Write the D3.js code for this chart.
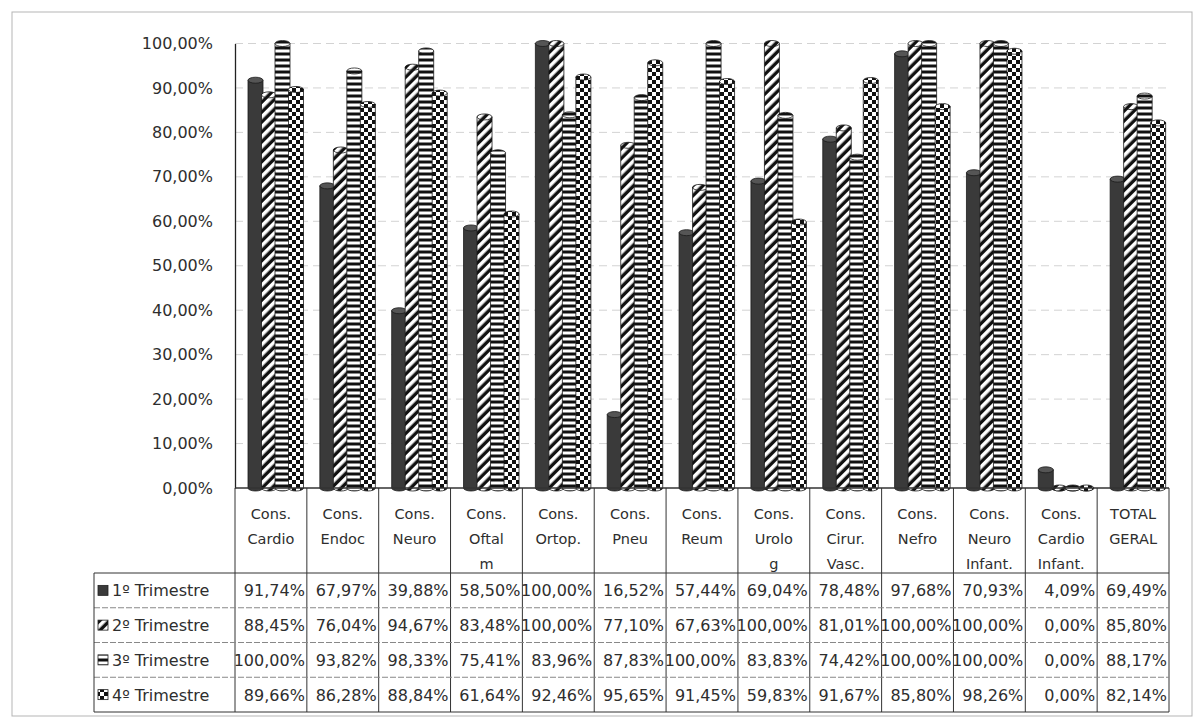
<!DOCTYPE html>
<html>
<head>
<meta charset="utf-8">
<script src="https://cdn.jsdelivr.net/npm/d3@7"></script>
<style>
  body { margin: 0; background: #fff; }
  text { font-family: "DejaVu Sans", sans-serif; fill: #2e2e2e; }
</style>
</head>
<body>
<svg width="1201" height="724"></svg>
<script>
// categories (header lines of the table)
var categories = [
  ["Cons.", "Cardio"], ["Cons.", "Endoc"], ["Cons.", "Neuro"], ["Cons.", "Oftal", "m"],
  ["Cons.", "Ortop."], ["Cons.", "Pneu"], ["Cons.", "Reum"], ["Cons.", "Urolo", "g"],
  ["Cons.", "Cirur.", "Vasc."], ["Cons.", "Nefro"], ["Cons.", "Neuro", "Infant."],
  ["Cons.", "Cardio", "Infant."], ["TOTAL", "GERAL"]
];
var seriesNames = ["1º Trimestre", "2º Trimestre", "3º Trimestre", "4º Trimestre"];
var tri1 = [91.74, 67.97, 39.88, 58.50, 100.00, 16.52, 57.44, 69.04, 78.48, 97.68, 70.93, 4.09, 69.49];
var tri2 = [88.45, 76.04, 94.67, 83.48, 100.00, 77.10, 67.63, 100.00, 81.01, 100.00, 100.00, 0.00, 85.80];
var tri3 = [100.00, 93.82, 98.33, 75.41, 83.96, 87.83, 100.00, 83.83, 74.42, 100.00, 100.00, 0.00, 88.17];
var tri4 = [89.66, 86.28, 88.84, 61.64, 92.46, 95.65, 91.45, 59.83, 91.67, 85.80, 98.26, 0.00, 82.14];
var yTicks = [0, 10, 20, 30, 40, 50, 60, 70, 80, 90, 100];

var series = [tri1, tri2, tri3, tri4];
var fills = ["#3a3a3a", "url(#pDiag)", "url(#pHoriz)", "url(#pCheck)"];

var svg = d3.select("svg");
var defs = svg.append("defs");

// patterns used for the series
var pd = defs.append("pattern").attr("id", "pDiag").attr("patternUnits", "userSpaceOnUse")
  .attr("width", 7).attr("height", 7).attr("patternTransform", "rotate(45)");
pd.append("rect").attr("width", 7).attr("height", 7).attr("fill", "#111");
pd.append("rect").attr("width", 3.6).attr("height", 7).attr("fill", "#fff");

var ph = defs.append("pattern").attr("id", "pHoriz").attr("patternUnits", "userSpaceOnUse")
  .attr("width", 6).attr("height", 6);
ph.append("rect").attr("width", 6).attr("height", 6).attr("fill", "#111");
ph.append("rect").attr("y", 1.5).attr("width", 6).attr("height", 3).attr("fill", "#fff");

var pc = defs.append("pattern").attr("id", "pCheck").attr("patternUnits", "userSpaceOnUse")
  .attr("width", 8).attr("height", 8);
pc.append("rect").attr("width", 8).attr("height", 8).attr("fill", "#111");
pc.append("rect").attr("width", 4).attr("height", 4).attr("fill", "#fff");
pc.append("rect").attr("x", 4).attr("y", 4).attr("width", 4).attr("height", 4).attr("fill", "#fff");

var left = 235, right = 1169;
var x = d3.scaleBand().domain(d3.range(categories.length)).range([left, right]).padding(0);
var y = d3.scaleLinear().domain([0, 100]).range([488, 43.5]);
var sub = d3.scaleLinear().domain([0, 3]).range([13, 53.5]);
var barW = 15, ry = 3;

// outer frame
svg.append("rect").attr("x", 12).attr("y", 12).attr("width", 1180).attr("height", 704)
  .attr("fill", "none").attr("stroke", "#b5b5b5");

// gridlines
svg.append("g").selectAll("line").data(yTicks.slice(1)).enter().append("line")
  .attr("x1", left).attr("x2", right)
  .attr("y1", function(d) { return y(d); }).attr("y2", function(d) { return y(d); })
  .attr("stroke", "#c8c8c8").attr("stroke-dasharray", "8,5").attr("stroke-width", 0.8);

// y axis
var yAxis = d3.axisLeft(y).tickValues(yTicks).tickSize(0).tickPadding(22)
  .tickFormat(function(d) { return d3.format(".2f")(d).replace(".", ",") + "%"; });
var ga = svg.append("g").attr("transform", "translate(" + left + ",0)").call(yAxis);
ga.select(".domain").attr("stroke", "#222").attr("stroke-width", 1.3);
ga.selectAll("text").style("font-size", "16px").style("font-family", "DejaVu Sans").attr("fill", "#2e2e2e");

// cylinders
function body(x0, yt, yb) {
  var r = barW / 2;
  return "M" + x0 + "," + yt + "L" + x0 + "," + yb +
    "A" + r + "," + ry + " 0 0 0 " + (x0 + barW) + "," + yb +
    "L" + (x0 + barW) + "," + yt + "Z";
}
series.forEach(function(vals, s) {
  var g = svg.append("g");
  vals.forEach(function(v, i) {
    var x0 = x(i) + sub(s);
    g.append("path").attr("d", body(x0, y(v), y(0)))
      .attr("fill", fills[s]).attr("stroke", "#1a1a1a").attr("stroke-width", 0.8);
    g.append("ellipse").attr("cx", x0 + barW / 2).attr("cy", y(v)).attr("rx", barW / 2).attr("ry", ry)
      .attr("fill", s === 0 ? "#555" : fills[s]).attr("stroke", "#1a1a1a").attr("stroke-width", 0.8);
  });
});

// data table
var rowTop = 573, rowH = 34.75, tableLeft = 94;
var tbl = svg.append("g").attr("stroke", "#333").attr("stroke-width", 1);
tbl.append("line").attr("x1", left).attr("x2", right).attr("y1", 488).attr("y2", 488).attr("stroke-width", 1.4);
d3.range(categories.length + 1).forEach(function(i) {
  var xx = i < categories.length ? x(i) : right;
  tbl.append("line").attr("x1", xx).attr("x2", xx).attr("y1", 488).attr("y2", rowTop + 4 * rowH);
});
d3.range(5).forEach(function(r) {
  tbl.append("line").attr("x1", tableLeft).attr("x2", right)
    .attr("y1", rowTop + r * rowH).attr("y2", rowTop + r * rowH)
    .attr("stroke", r === 0 || r === 4 ? "#333" : "#888")
    .attr("stroke-dasharray", r === 0 || r === 4 ? null : "6,2");
});
tbl.append("line").attr("x1", tableLeft).attr("x2", tableLeft).attr("y1", rowTop).attr("y2", rowTop + 4 * rowH);

// header labels
categories.forEach(function(lines, i) {
  var t = svg.append("text").attr("text-anchor", "middle").style("font-size", "14.5px");
  lines.forEach(function(l, k) {
    t.append("tspan").attr("x", x(i) + x.bandwidth() / 2).attr("y", 519 + k * 25).text(l);
  });
});

// rows
var fmt = function(v) { return d3.format(".2f")(v).replace(".", ",") + "%"; };
series.forEach(function(vals, s) {
  var cy = rowTop + s * rowH + rowH / 2;
  svg.append("rect").attr("x", 98).attr("y", cy - 5).attr("width", 10).attr("height", 10)
    .attr("fill", fills[s]).attr("stroke", "#222").attr("stroke-width", 0.8);
  svg.append("text").attr("x", 112).attr("y", cy + 6).style("font-size", "16px").text(seriesNames[s]);
  vals.forEach(function(v, i) {
    svg.append("text").attr("x", x(i) + x.bandwidth() - 2).attr("y", cy + 6)
      .attr("text-anchor", "end").style("font-size", "16px").text(fmt(v));
  });
});
</script>
</body>
</html>
